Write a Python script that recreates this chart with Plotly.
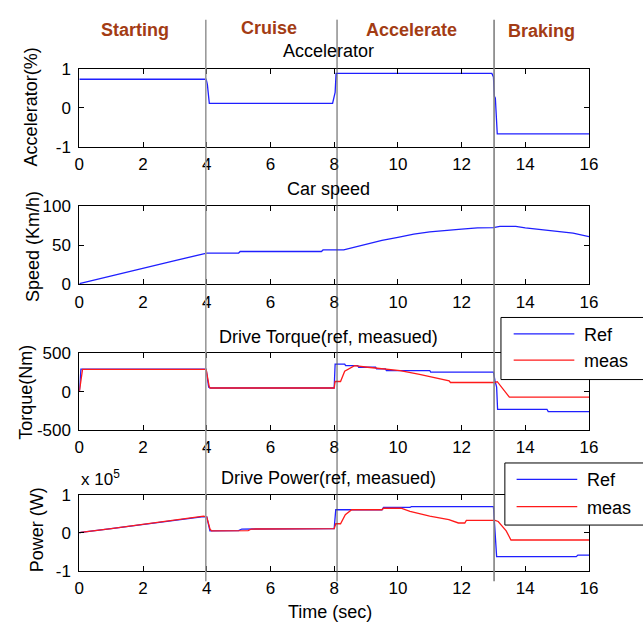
import plotly.graph_objects as go

W, H = 643, 634

# ---------------- data ----------------
acc_t = [0, 3.98, 4.02, 4.05, 4.08, 7.95, 8.0, 8.03, 8.06, 12.95, 13.0, 13.03, 13.06, 13.09, 13.12, 16]
acc_v = [0.74, 0.74, 0.60, 0.34, 0.12, 0.12, 0.35, 0.40, 0.89, 0.89, 0.80, 0.30, 0.25, -0.20, -0.67, -0.67]

spd_t = [0, 0.1, 1, 2, 3, 3.9, 4.0, 5.0, 5.05, 7.6, 7.65, 8.3, 8.6, 9.0, 9.5, 10.0, 10.5, 11.0, 11.5,
         12.0, 12.5, 13.0, 13.2, 13.7, 14.0, 14.5, 15.0, 15.5, 16.0]
spd_v = [1, 2, 11, 21, 30.5, 39, 40, 40, 42, 42, 44, 44, 47, 51, 56, 60, 64, 67, 69,
         70.5, 72, 72.5, 74, 74, 72, 70, 67.5, 65.5, 61]

trq_ref_t = [0, 0.05, 3.98, 4.02, 4.06, 4.1, 8.0, 8.03, 8.33, 8.36, 8.74, 8.77, 9.3, 9.33, 9.61, 9.64,
             11.0, 11.03, 13.0, 13.05, 13.1, 13.13, 14.68, 14.72, 16]
trq_ref_v = [0, 295, 295, 150, 60, 48, 48, 360, 360, 340, 340, 319, 319, 297, 297, 276,
             276, 255, 255, 140, 60, -230, -230, -260, -260]
trq_meas_t = [0, 0.1, 3.98, 4.03, 4.08, 4.12, 8.0, 8.03, 8.2, 8.33, 8.64, 9.05, 9.61, 10.07, 10.68,
              11.2, 11.61, 11.65, 13.05, 13.12, 13.3, 13.5, 16]
trq_meas_v = [0, 290, 290, 140, 60, 48, 48, 133, 133, 268, 340, 319, 297, 276, 226,
              180, 141, 120, 120, 130, 40, -70, -70]

pwr_ref_t = [0, 0.05, 1, 2, 3, 3.9, 4.0, 4.05, 4.1, 5.0, 5.1, 8.0, 8.05, 9.5, 9.55, 10.38, 10.42,
             13.0, 13.05, 13.1, 15.6, 15.65, 16]
pwr_ref_v = [0, 1000, 11000, 22000, 33000, 43000, 42000, 25000, 5000, 6000, 10000, 11000, 61000,
             61000, 67000, 67000, 69000, 69000, 10000, -63000, -63000, -59000, -59000]
pwr_meas_t = [0, 0.05, 1, 2, 3, 3.9, 4.0, 4.1, 4.15, 5.3, 5.4, 8.0, 8.05, 8.2, 8.35, 8.55, 9.5, 9.55,
              10.1, 10.38, 11.0, 11.6, 11.9, 12.1, 12.15, 13.05, 13.15, 13.4, 13.55, 16]
pwr_meas_v = [0, 1000, 11000, 22000, 33000, 44000, 42000, 10000, 5000, 6000, 10000, 11000, 24000,
              24000, 48000, 61000, 61000, 65000, 65000, 57000, 44000, 35000, 26000, 26000, 33000,
              33000, 30000, 5000, -19000, -19000]

x_ticks = [0, 2, 4, 6, 8, 10, 12, 14, 16]
acc_ticks = [-1, 0, 1]
acc_ticktext = ["-1", "0", "1"]
spd_ticks = [0, 50, 100]
spd_ticktext = ["0", "50", "100"]
trq_ticks = [-500, 0, 500]
trq_ticktext = ["-500", "0", "500"]
pwr_ticks = [-100000, 0, 100000]
pwr_ticktext = ["-1", "0", "1"]

phase_names = ["Starting", "Cruise", "Accelerate", "Braking"]
phase_bounds = [3.97, 8.09, 13.02]
phase_colors = ["#9a9a9a", "#555555", "#808080"]

titles = ["Accelerator", "Car speed", "Drive Torque(ref, measued)", "Drive Power(ref, measued)"]
ytitles = ["Accelerator(%)", "Speed (Km/h)", "Torque(Nm)", "Power (W)"]

# ---------------- layout helpers ----------------
FONT = "Liberation Sans, Arial, sans-serif"
X0, X1 = 76, 597
boxes = [(62, 142), (203, 284), (355, 434), (501, 579)]
BLUE = "#1f1fff"
RED = "#ff1a1a"


def px(p):
    return p / W


def py(p):
    return 1 - p / H


fig = go.Figure()
fig.add_trace(go.Scatter(x=acc_t, y=acc_v, mode="lines", line=dict(color=BLUE, width=1.3),
                         xaxis="x", yaxis="y", showlegend=False))
fig.add_trace(go.Scatter(x=spd_t, y=spd_v, mode="lines", line=dict(color=BLUE, width=1.3),
                         xaxis="x2", yaxis="y2", showlegend=False))
fig.add_trace(go.Scatter(x=trq_ref_t, y=trq_ref_v, mode="lines", line=dict(color=BLUE, width=1.3),
                         xaxis="x3", yaxis="y3", showlegend=False))
fig.add_trace(go.Scatter(x=trq_meas_t, y=trq_meas_v, mode="lines", line=dict(color=RED, width=1.3),
                         xaxis="x3", yaxis="y3", showlegend=False))
fig.add_trace(go.Scatter(x=pwr_ref_t, y=pwr_ref_v, mode="lines", line=dict(color=BLUE, width=1.3),
                         xaxis="x4", yaxis="y4", showlegend=False))
fig.add_trace(go.Scatter(x=pwr_meas_t, y=pwr_meas_v, mode="lines", line=dict(color=RED, width=1.3),
                         xaxis="x4", yaxis="y4", showlegend=False))

common = dict(showline=True, linecolor="black", linewidth=1, mirror="ticks", ticks="inside",
              ticklen=5, tickcolor="black", tickwidth=1, showgrid=False, zeroline=False,
              tickfont=dict(family=FONT, size=17, color="black"))

y_specs = [
    dict(range=[-1, 1], tickvals=acc_ticks, ticktext=acc_ticktext),
    dict(range=[0, 100], tickvals=spd_ticks, ticktext=spd_ticktext),
    dict(range=[-500, 500], tickvals=trq_ticks, ticktext=trq_ticktext),
    dict(range=[-100000, 100000], tickvals=pwr_ticks, ticktext=pwr_ticktext),
]

layout = dict(width=W, height=H, margin=dict(l=0, r=0, t=0, b=0), paper_bgcolor="white",
              plot_bgcolor="white", showlegend=False)
for i, (top, bot) in enumerate(boxes):
    sx = "" if i == 0 else str(i + 1)
    layout["xaxis" + sx] = dict(common, domain=[px(X0), px(X1)], range=[0, 16], tickvals=x_ticks,
                                anchor="y" + sx, ticklabelstandoff=2)
    layout["yaxis" + sx] = dict(common, domain=[py(bot), py(top)], anchor="x" + sx,
                                ticklabelstandoff=4, **y_specs[i])
fig.update_layout(**layout)

ann = []
# subplot titles
title_y = [43, 186, 338, 483]
for t, y in zip(titles, title_y):
    ann.append(dict(text=t, x=px(331), y=py(y), xref="paper", yref="paper", showarrow=False,
                    xanchor="center", yanchor="middle", font=dict(family=FONT, size=18, color="black")))
# y titles
ytitle_x = [27, 28, 22, 33]
ytitle_y = [101, 245, 395, 537]
for t, x, y in zip(ytitles, ytitle_x, ytitle_y):
    ann.append(dict(text=t, x=px(x), y=py(y), xref="paper", yref="paper", showarrow=False,
                    textangle=-90, xanchor="center", yanchor="middle",
                    font=dict(family=FONT, size=18, color="black")))
# x title
ann.append(dict(text="Time (sec)", x=px(332), y=py(622), xref="paper", yref="paper", showarrow=False,
                xanchor="center", yanchor="middle", font=dict(family=FONT, size=18, color="black")))
# exponent label
ann.append(dict(text="x 10<sup>5</sup>", x=px(76), y=py(484), xref="paper", yref="paper",
                showarrow=False, xanchor="left", yanchor="middle",
                font=dict(family=FONT, size=17, color="black")))
# phase labels
phase_x = [133, 270, 416, 548]
phase_y = [22, 20, 22, 23]
for t, x, y in zip(phase_names, phase_x, phase_y):
    ann.append(dict(text="<b>" + t + "</b>", x=px(x), y=py(y), xref="paper", yref="paper",
                    showarrow=False, xanchor="center", yanchor="middle",
                    font=dict(family=FONT, size=18, color="#a33c14")))

shapes = []
for b, c in zip(phase_bounds, phase_colors):
    shapes.append(dict(type="line", xref="x", yref="paper", x0=b, x1=b, y0=py(590), y1=py(11),
                       line=dict(color=c, width=1.6 if c != "#555555" else 1), layer="above"))

# legends (drawn as boxes)
legends = [dict(box=(507, 318, 382), ly=(335, 362), lx=(520, 582), tx=590),
           dict(box=(511, 468, 532), ly=(485, 513), lx=(523, 585), tx=593)]
for lg in legends:
    x0, y0, y1 = lg["box"]
    shapes.append(dict(type="rect", xref="paper", yref="paper", x0=px(x0), x1=px(660), y0=py(y1),
                       y1=py(y0), line=dict(color="black", width=1), fillcolor="white", layer="above"))
    for col, yy, lab in zip([BLUE, RED], lg["ly"], ["Ref", "meas"]):
        shapes.append(dict(type="line", xref="paper", yref="paper", x0=px(lg["lx"][0]),
                           x1=px(lg["lx"][1]), y0=py(yy), y1=py(yy), line=dict(color=col, width=1.3),
                           layer="above"))
        ann.append(dict(text=lab, x=px(lg["tx"]), y=py(yy + 1), xref="paper", yref="paper",
                        showarrow=False, xanchor="left", yanchor="middle",
                        font=dict(family=FONT, size=18, color="black")))

fig.update_layout(annotations=ann, shapes=shapes)
fig.write_html("out.html")
